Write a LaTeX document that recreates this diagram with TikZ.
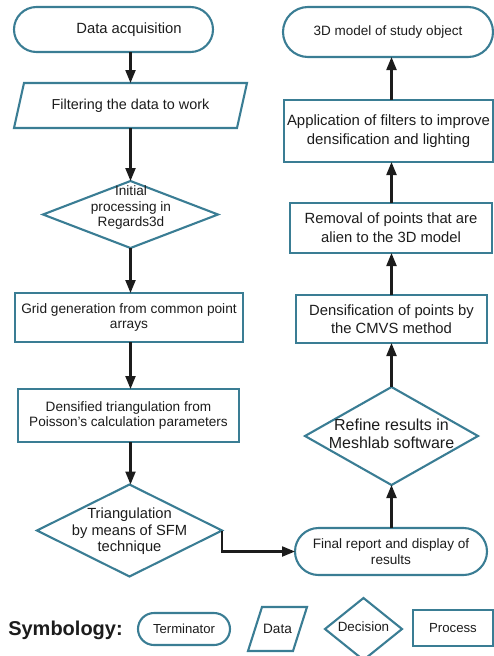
\documentclass[tikz,border=0pt]{standalone}
\usepackage{fontspec}
\setmainfont{Liberation Sans}
\usetikzlibrary{shapes.geometric,shapes.misc,arrows.meta}
\definecolor{tealline}{RGB}{58,125,148}
\definecolor{ink}{RGB}{28,28,28}
\begin{document}
\begin{tikzpicture}[x=1pt,y=-1pt,
  every node/.style={inner sep=0pt, outer sep=0pt, text=ink, align=center},
  fnt/.style 2 args={font=\fontsize{#1}{#2}\selectfont},
  shapeline/.style={draw=tealline, line width=2.1pt},
  term/.style={shapeline, rounded rectangle},
  procbox/.style={shapeline, rectangle},
  decide/.style={shapeline, diamond},
  flow/.style={draw=ink, line width=2.1pt, -{Triangle[length=13pt,width=10pt]}}
]
\useasboundingbox (0,0) rectangle (494,656);
\coordinate (colL) at (130.5,0);
\coordinate (colR) at (391.5,0);

% ---------- left column ----------
\node[term, minimum width=199pt, minimum height=45pt] (T1) at (113.5,29.5) {};
\node[fnt={14.8}{17}] (T1t) at (129,29.5) {Data acquisition};

\node[fnt={14.4}{17}, minimum width=233pt, minimum height=45pt] (P1) at (130.5,105.5) {Filtering the data to work};
\draw[shapeline] (P1.south west) -- ([xshift=10pt]P1.north west) -- (P1.north east) -- ([xshift=-10pt]P1.south east) -- cycle;

\node[decide, minimum width=175pt, minimum height=67pt] (D1) at (130.5,214.5) {};
\node[fnt={13.6}{15.5}] (D1t) at (131,207.5) {Initial\\processing in\\Regards3d};

\node[procbox, fnt={13.7}{15.5}, minimum width=228pt, minimum height=49pt] (R1) at (129,317.5) {Grid generation from common point\\arrays};

\node[procbox, fnt={13.6}{15.7}, minimum width=221pt, minimum height=53pt] (R2) at (128.5,415.5) {Densified triangulation from\\Poisson's calculation parameters};

\node[decide, minimum width=185pt, minimum height=92pt] (D2) at (129.5,530.5) {};
\node[fnt={14.7}{16.5}] (D2t) at (129.5,531.5) {Triangulation\\by means of SFM\\technique};

% ---------- right column ----------
\node[term, fnt={13.5}{16}, minimum width=210pt, minimum height=50pt] (T2) at (388,32) {3D model of study object};

\node[procbox, fnt={14.9}{19.5}, minimum width=209pt, minimum height=62pt] (A1) at (388.5,131) {Application of filters to improve\\densification and lighting};

\node[procbox, fnt={14.8}{19}, minimum width=202pt, minimum height=50pt] (R3) at (391,228) {Removal of points that are\\alien to the 3D model};

\node[procbox, fnt={14.8}{18}, minimum width=191pt, minimum height=48pt] (R4) at (391.5,319) {Densification of points by\\the CMVS method};

\node[decide, minimum width=173pt, minimum height=98pt] (D3) at (391.5,436) {};
\node[fnt={16}{18}] (D3t) at (391.5,434) {Refine results in\\Meshlab software};

\node[term, fnt={13.6}{16.3}, minimum width=192pt, minimum height=47pt] (F) at (391,551.5) {Final report and display of\\results};

% ---------- connectors ----------
\draw[flow] (T1.south -| colL) -- (P1.north -| colL);
\draw[flow] (P1.south -| colL) -- (D1.north -| colL);
\draw[flow] (D1.south -| colL) -- (R1.north -| colL);
\draw[flow] (R1.south -| colL) -- (R2.north -| colL);
\draw[flow] (R2.south -| colL) -- (D2.north -| colL);
\draw[flow] (D2.east) |- (F.west);
\draw[flow] (F.north -| colR) -- (D3.south -| colR);
\draw[flow] (D3.north -| colR) -- (R4.south -| colR);
\draw[flow] (R4.north -| colR) -- (R3.south -| colR);
\draw[flow] (R3.north -| colR) -- (A1.south -| colR);
\draw[flow] (A1.north -| colR) -- (T2.south -| colR);

% ---------- legend ----------
\node[font=\bfseries\fontsize{20}{24}\selectfont] (sym) at (65.5,630) {Symbology:};
\node[term, fnt={13.1}{15}, minimum width=92pt, minimum height=32pt] (LT) at (184,629) {Terminator};
\node[fnt={13.6}{15}, minimum width=59pt, minimum height=44pt] (LD) at (277.5,629) {Data};
\draw[shapeline] (LD.south west) -- ([xshift=14pt]LD.north west) -- (LD.north east) -- ([xshift=-14pt]LD.south east) -- cycle;
\node[decide, minimum width=77pt, minimum height=62pt] (LDe) at (363.5,629) {};
\node[fnt={13.4}{15}] (LDet) at (363.5,627) {Decision};
\node[procbox, fnt={13.2}{15}, minimum width=80pt, minimum height=36pt] (LP) at (453,628) {Process};
\end{tikzpicture}
\end{document}
